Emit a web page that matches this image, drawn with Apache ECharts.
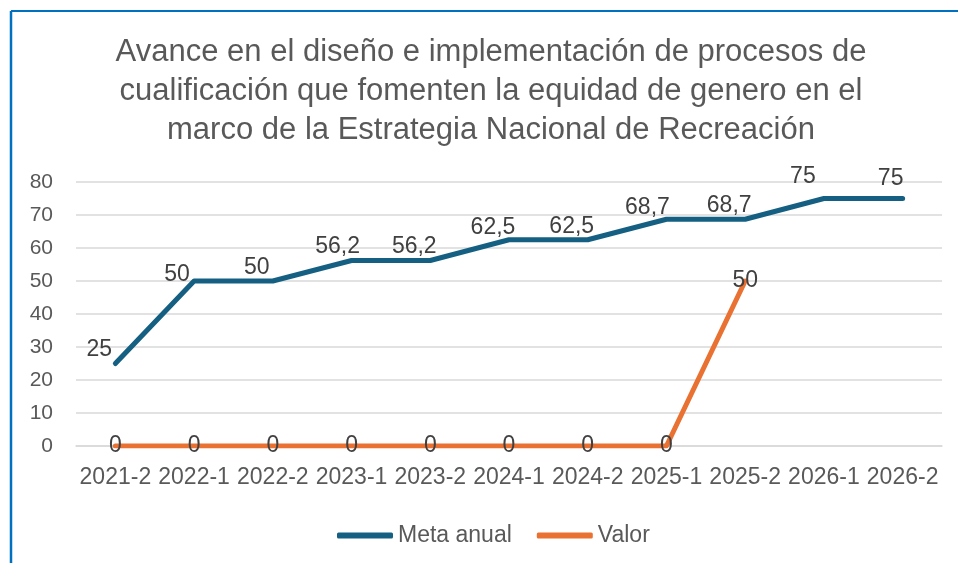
<!DOCTYPE html>
<html>
<head>
<meta charset="utf-8">
<script src="https://cdn.jsdelivr.net/npm/echarts@6/dist/echarts.min.js"></script>
<style>
html,body{margin:0;padding:0;background:#fff;}
#c{width:958px;height:563px;}
</style>
</head>
<body>
<div id="c"></div>
<script>
var titleText = "Avance en el diseño e implementación de procesos de\ncualificación que fomenten la equidad de genero en el\nmarco de la Estrategia Nacional de Recreación";
var categories = ["2021-2","2022-1","2022-2","2023-1","2023-2","2024-1","2024-2","2025-1","2025-2","2026-1","2026-2"];
var metaAnual = [25, 50, 50, 56.2, 56.2, 62.5, 62.5, 68.7, 68.7, 75, 75];
var valor = [0, 0, 0, 0, 0, 0, 0, 0, 50, null, null];
var seriesNames = ["Meta anual", "Valor"];
var yTicks = {min: 0, max: 80, interval: 10};

var FONT = "'Liberation Sans', Arial, sans-serif";
var metaLabelOffsets = [[-16,3],[-17,10],[-16,3],[-14,3],[-16,3],[-16,4],[-16,3],[-19,5],[-16,3],[-21,-5],[-12,-3]];
var metaData = metaAnual.map(function(v,i){
  return {value: v, label: {offset: metaLabelOffsets[i]}};
});

var chart = echarts.init(document.getElementById('c'), null, {renderer:'canvas'});
chart.setOption({
  animation: false,
  backgroundColor: '#ffffff',
  title: {
    text: titleText,
    left: 486, top: 28, textAlign: 'center',
    textStyle: {fontFamily: FONT, fontSize: 31, fontWeight: 'normal', color: '#595959', lineHeight: 39}
  },
  grid: {left: 76, right: 16, top: 182, bottom: 117, containLabel: false},
  legend: {
    data: seriesNames,
    left: 332, top: 519,
    icon: 'roundRect', itemWidth: 56, itemHeight: 6, itemGap: 25,
    textStyle: {fontFamily: FONT, fontSize: 23, color: '#595959'}
  },
  xAxis: {
    type: 'category', data: categories, boundaryGap: true,
    axisLine: {lineStyle: {color: '#d9d9d9', width: 1.5}},
    axisTick: {show: false},
    axisLabel: {fontFamily: FONT, fontSize: 23, color: '#595959', margin: 20, interval: 0}
  },
  yAxis: {
    type: 'value', min: yTicks.min, max: yTicks.max, interval: yTicks.interval,
    axisLine: {show: false}, axisTick: {show: false},
    splitLine: {lineStyle: {color: '#d9d9d9', width: 1.5}},
    axisLabel: {fontFamily: FONT, fontSize: 21, color: '#595959', margin: 23}
  },
  series: [
    {
      name: seriesNames[0], type: 'line', data: metaData,
      symbol: 'circle', symbolSize: 2, showSymbol: true,
      lineStyle: {color: '#156082', width: 5, cap: 'round', join: 'round'},
      itemStyle: {color: '#156082'},
      label: {show: true, position: 'top', distance: 4, fontFamily: FONT, fontSize: 23, color: '#404040',
        formatter: function(p){ return String(p.value).replace('.', ','); }},
      z: 2
    },
    {
      name: seriesNames[1], type: 'line', data: valor,
      symbol: 'circle', symbolSize: 2, showSymbol: true,
      lineStyle: {color: '#E97132', width: 5, cap: 'round', join: 'round'},
      itemStyle: {color: '#E97132'},
      label: {show: true, position: 'inside', fontFamily: FONT, fontSize: 23, color: '#404040',
        formatter: function(p){ return String(p.value).replace('.', ','); }},
      z: 3
    }
  ],
  graphic: [
    {type:'line', shape:{x1:11, y1:11, x2:11, y2:563}, style:{stroke:'#0070C0', lineWidth:2.5}, silent:true},
    {type:'line', shape:{x1:11, y1:11, x2:958, y2:11}, style:{stroke:'#0070C0', lineWidth:2}, silent:true}
  ]
});
</script>
</body>
</html>
